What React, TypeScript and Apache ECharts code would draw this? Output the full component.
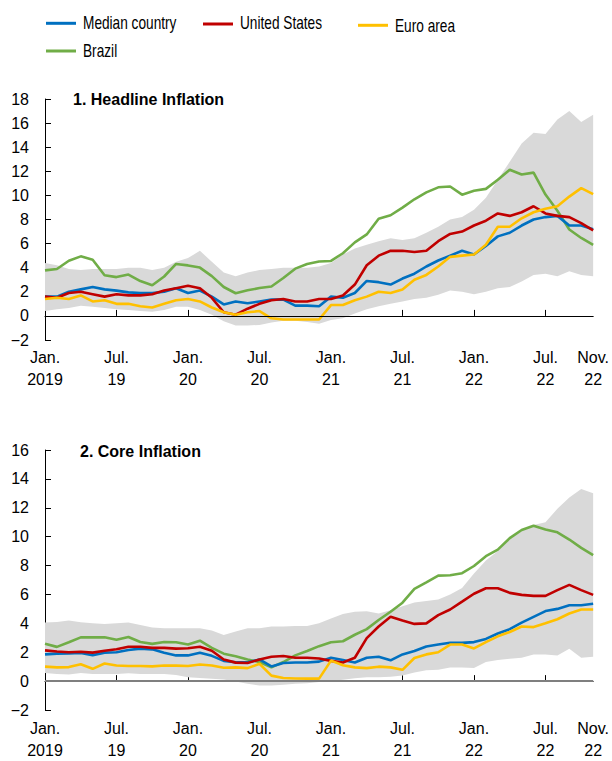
import React, { useEffect, useRef } from "react";
import * as echarts from "echarts";

// Months Jan 2019 .. Nov 2022
const months: string[] = [];
for (let y = 2019; y <= 2022; y++) {
  for (let m = 1; m <= 12; m++) {
    if (y === 2022 && m > 11) break;
    months.push(`${y}-${String(m).padStart(2, "0")}`);
  }
}

const xTickLabels: Record<number, string> = {
  0: "Jan.\n2019",
  6: "Jul.\n19",
  12: "Jan.\n20",
  18: "Jul.\n20",
  24: "Jan.\n21",
  30: "Jul.\n21",
  36: "Jan.\n22",
  42: "Jul.\n22",
  46: "Nov.\n22",
};

// Panel 1: Headline inflation
const headMedian = [1.6, 1.6, 2.0, 2.2, 2.4, 2.2, 2.1, 1.95, 1.9, 1.9, 2.0, 2.3, 1.9, 2.1, 1.6, 0.95, 1.2, 1.05, 1.2, 1.35, 1.35, 0.85, 0.85, 0.8, 1.6, 1.5, 1.9, 2.9, 2.8, 2.6, 3.1, 3.5, 4.1, 4.6, 5.0, 5.4, 5.1, 5.8, 6.6, 6.9, 7.5, 8.0, 8.2, 8.3, 7.5, 7.5, 7.2];
const headUS = [1.6, 1.5, 1.9, 2.0, 1.8, 1.6, 1.8, 1.7, 1.7, 1.8, 2.1, 2.3, 2.5, 2.3, 1.5, 0.3, 0.1, 0.6, 1.0, 1.3, 1.4, 1.2, 1.2, 1.4, 1.4, 1.7, 2.6, 4.2, 5.0, 5.4, 5.4, 5.3, 5.4, 6.2, 6.8, 7.0, 7.5, 7.9, 8.5, 8.3, 8.6, 9.1, 8.5, 8.3, 8.2, 7.7, 7.1];
const headEuro = [1.4, 1.5, 1.4, 1.7, 1.2, 1.3, 1.0, 1.0, 0.8, 0.7, 1.0, 1.3, 1.4, 1.2, 0.7, 0.3, 0.1, 0.3, 0.4, -0.2, -0.3, -0.3, -0.3, -0.3, 0.9, 0.9, 1.3, 1.6, 2.0, 1.9, 2.2, 3.0, 3.4, 4.1, 4.9, 5.0, 5.1, 5.9, 7.4, 7.4, 8.1, 8.6, 8.9, 9.1, 9.9, 10.6, 10.1];
const headBrazil = [3.78, 3.89, 4.58, 4.94, 4.66, 3.37, 3.22, 3.43, 2.89, 2.54, 3.27, 4.31, 4.19, 4.01, 3.3, 2.4, 1.88, 2.13, 2.31, 2.44, 3.14, 3.92, 4.31, 4.52, 4.56, 5.2, 6.1, 6.76, 8.06, 8.35, 8.99, 9.68, 10.25, 10.67, 10.74, 10.06, 10.38, 10.54, 11.3, 12.13, 11.73, 11.89, 10.07, 8.73, 7.17, 6.47, 5.9];
const headBandLow = [0.4, 0.55, 0.65, 0.85, 0.75, 0.65, 0.55, 0.5, 0.4, 0.35, 0.5, 0.75, 0.75, 0.5, 0.1, -0.45, -0.8, -0.8, -0.75, -0.55, -0.4, -0.4, -0.5, -0.65, -0.35, -0.2, 0.2, 0.55, 0.8, 1.0, 1.2, 1.4, 1.5, 1.75, 2.1, 2.0, 1.8, 2.0, 2.3, 2.4, 2.85, 3.4, 3.5, 3.3, 3.7, 3.4, 3.3];
const headBandHigh = [4.4, 4.2, 3.9, 3.8, 3.9, 3.9, 3.9, 4.0, 4.0, 3.8, 4.0, 4.5, 4.8, 5.4, 4.5, 3.6, 3.3, 3.6, 3.8, 3.9, 4.0, 4.0, 4.0, 4.1, 4.4, 5.1, 5.6, 5.9, 6.2, 6.45, 6.3, 6.45, 6.9, 7.4, 8.0, 8.2, 8.8, 9.8, 11.3, 12.8, 14.3, 15.2, 15.1, 16.3, 17.0, 16.1, 16.7];

// Panel 2: Core inflation
const coreMedian = [1.85, 1.9, 1.92, 1.95, 1.8, 1.97, 2.0, 2.15, 2.25, 2.2, 1.97, 1.78, 1.78, 1.97, 1.75, 1.4, 1.3, 1.3, 1.5, 1.02, 1.25, 1.29, 1.29, 1.35, 1.62, 1.46, 1.29, 1.62, 1.69, 1.44, 1.85, 2.08, 2.4, 2.53, 2.65, 2.65, 2.7, 2.92, 3.3, 3.6, 4.05, 4.45, 4.85, 5.0, 5.25, 5.25, 5.36];
const coreUS = [2.13, 2.05, 2.0, 2.03, 1.97, 2.1, 2.2, 2.38, 2.38, 2.3, 2.3, 2.25, 2.27, 2.38, 2.1, 1.5, 1.28, 1.25, 1.5, 1.69, 1.74, 1.62, 1.62, 1.56, 1.4, 1.29, 1.62, 2.98, 3.78, 4.46, 4.19, 3.96, 4.0, 4.57, 4.96, 5.5, 6.05, 6.43, 6.43, 6.11, 5.97, 5.9, 5.9, 6.3, 6.66, 6.3, 5.97];
const coreEuro = [1.0, 0.95, 0.97, 1.17, 0.85, 1.22, 1.08, 1.05, 1.05, 1.02, 1.08, 1.07, 1.05, 1.15, 1.08, 0.92, 0.95, 0.9, 1.2, 0.38, 0.22, 0.18, 0.17, 0.17, 1.42, 1.1, 0.95, 0.9, 1.0, 0.95, 0.78, 1.6, 1.85, 2.0, 2.53, 2.53, 2.26, 2.7, 3.1, 3.4, 3.78, 3.74, 4.0, 4.28, 4.68, 4.96, 4.96];
const coreBrazil = [2.58, 2.37, 2.69, 3.03, 3.03, 3.03, 2.87, 3.05, 2.71, 2.58, 2.71, 2.69, 2.53, 2.8, 2.3, 1.9, 1.72, 1.5, 1.32, 0.95, 1.32, 1.78, 2.08, 2.42, 2.69, 2.76, 3.21, 3.6, 4.23, 4.8, 5.43, 6.38, 6.83, 7.3, 7.33, 7.47, 7.97, 8.65, 9.1, 9.9, 10.46, 10.75, 10.5, 10.3, 9.8, 9.22, 8.72];
const coreBandLow = [0.56, 0.5, 0.45, 0.56, 0.5, 0.5, 0.5, 0.54, 0.5, 0.5, 0.5, 0.43, 0.27, 0.22, 0.16, 0.11, -0.03, -0.19, -0.3, -0.3, -0.25, -0.19, -0.14, -0.07, 0.0, 0.09, 0.2, 0.27, 0.27, 0.31, 0.38, 0.6, 0.75, 0.78, 0.95, 0.95, 0.9, 1.33, 1.47, 1.55, 1.62, 1.85, 1.85, 1.78, 2.24, 1.62, 1.69];
const coreBandHigh = [4.05, 4.1, 4.2, 4.07, 4.0, 3.96, 4.0, 4.05, 3.89, 3.71, 3.66, 3.66, 3.66, 3.66, 3.5, 3.2, 3.44, 3.66, 3.66, 3.78, 3.78, 3.82, 3.82, 4.0, 4.34, 4.64, 4.8, 4.84, 4.68, 4.9, 5.18, 5.45, 5.55, 5.65, 6.0, 6.45, 7.45, 8.35, 9.0, 9.82, 10.46, 10.8, 11.0, 11.93, 12.72, 13.3, 13.0];

const seriesNames = ["Median country", "United States", "Euro area", "Brazil"];
const colors = ["#0070C0", "#C00000", "#FFC000", "#70AD47"];

const FONT = "'Liberation Sans', Arial, sans-serif";

function fmtY(v: number) {
  return v < 0 ? "\u2212" + Math.abs(v) : String(v);
}

export default function App() {
  const ref = useRef<HTMLDivElement>(null);

  useEffect(() => {
    document.body.style.margin = "0";
    if (!ref.current) return;
    const chart = echarts.init(ref.current, undefined, { renderer: "svg" });

    const xAxisBase = (gridIndex: number, margin: number) => ({
      type: "category" as const,
      gridIndex,
      data: months,
      boundaryGap: false,
      axisLine: { show: true, lineStyle: { color: "#000", width: 1 } },
      axisTick: {
        show: true,
        inside: true,
        length: 6,
        lineStyle: { color: "#000" },
        interval: (i: number) => i % 6 === 0 && i > 0 && i < 46,
      },
      axisLabel: {
        interval: (i: number) => xTickLabels[i] !== undefined,
        formatter: (_v: string, i: number) => xTickLabels[i] ?? "",
        color: "#000",
        fontSize: 16,
        fontFamily: FONT,
        lineHeight: 22,
        margin,
        showMaxLabel: true,
      },
      splitLine: { show: false },
    });

    const yAxisBase = (gridIndex: number, max: number) => ({
      type: "value" as const,
      gridIndex,
      min: -2,
      max,
      interval: 2,
      axisLine: { show: true, lineStyle: { color: "#000", width: 1 } },
      axisTick: { show: true, inside: true, length: 6, lineStyle: { color: "#000" } },
      axisLabel: { color: "#000", fontSize: 16, fontFamily: FONT, margin: 16, formatter: fmtY },
      splitLine: { show: false },
    });

    const bandSeries = (idx: number, low: number[], high: number[], zeroColor: string, zeroWidth: number) => [
      {
        type: "line",
        xAxisIndex: idx,
        yAxisIndex: idx,
        data: low,
        stack: "band" + idx,
        stackStrategy: "all",
        symbol: "none",
        lineStyle: { opacity: 0 },
        silent: true,
        z: 1,
      },
      {
        type: "line",
        xAxisIndex: idx,
        yAxisIndex: idx,
        data: high.map((h, i) => h - low[i]),
        stack: "band" + idx,
        stackStrategy: "all",
        symbol: "none",
        lineStyle: { opacity: 0 },
        areaStyle: { color: "#D9D9D9", opacity: 1 },
        silent: true,
        z: 1,
      },
      {
        type: "line",
        xAxisIndex: idx,
        yAxisIndex: idx,
        data: low,
        symbol: "none",
        lineStyle: { opacity: 0 },
        silent: true,
        z: 2,
        markLine: {
          silent: true,
          symbol: ["none", "none"],
          label: { show: false },
          lineStyle: { color: zeroColor, width: zeroWidth, type: "solid" },
          data: [{ yAxis: 0 }],
        },
      },
    ];

    const lineSeries = (idx: number, data: number[][]) =>
      data.map((d, k) => ({
        type: "line",
        name: seriesNames[k],
        xAxisIndex: idx,
        yAxisIndex: idx,
        data: d,
        symbol: "none",
        color: colors[k],
        lineStyle: { color: colors[k], width: 2.6 },
        z: 3 + (k === 3 ? 0 : 1),
      }));

    // Legend entries (position of swatch and text)
    const legendPos = [
      { x: 46, ly: 23.3, ty: 23 },
      { x: 203, ly: 24, ty: 23 },
      { x: 358, ly: 25.3, ty: 26 },
      { x: 46, ly: 51, ty: 50.5 },
    ];
    const legendGraphics: any[] = [];
    seriesNames.forEach((name, k) => {
      const p = legendPos[k];
      legendGraphics.push({
        type: "rect",
        shape: { x: p.x, y: p.ly - 1.5, width: 30, height: 3 },
        style: { fill: colors[k] },
        silent: true,
      });
      legendGraphics.push({
        type: "text",
        x: p.x + 37,
        y: p.ty,
        scaleX: 0.76,
        style: {
          text: name,
          fontSize: 18,
          fontFamily: FONT,
          fill: "#000",
          verticalAlign: "middle",
          align: "left",
        },
        silent: true,
      });
    });

    chart.setOption({
      animation: false,
      backgroundColor: "#fff",
      title: [
        {
          text: "1. Headline Inflation",
          left: 73,
          top: 91,
          padding: 0,
          textStyle: { fontSize: 16, fontWeight: "bold", fontFamily: FONT, color: "#000" },
        },
        {
          text: "2. Core Inflation",
          left: 80,
          top: 443,
          padding: 0,
          textStyle: { fontSize: 16, fontWeight: "bold", fontFamily: FONT, color: "#000" },
        },
      ],
      graphic: legendGraphics,
      grid: [
        { left: 45, top: 99, width: 552, height: 241 },
        { left: 45, top: 450, width: 552, height: 265 },
      ],
      xAxis: [xAxisBase(0, 6), xAxisBase(1, 7)],
      yAxis: [yAxisBase(0, 18), yAxisBase(1, 16)],
      series: [
        ...bandSeries(0, headBandLow, headBandHigh, "#000", 1),
        ...lineSeries(0, [headMedian, headUS, headEuro, headBrazil]),
        ...bandSeries(1, coreBandLow, coreBandHigh, "#7F7F7F", 2),
        ...lineSeries(1, [coreMedian, coreUS, coreEuro, coreBrazil]),
      ],
    });

    return () => chart.dispose();
  }, []);

  return <div ref={ref} style={{ width: 612, height: 761 }} />;
}
